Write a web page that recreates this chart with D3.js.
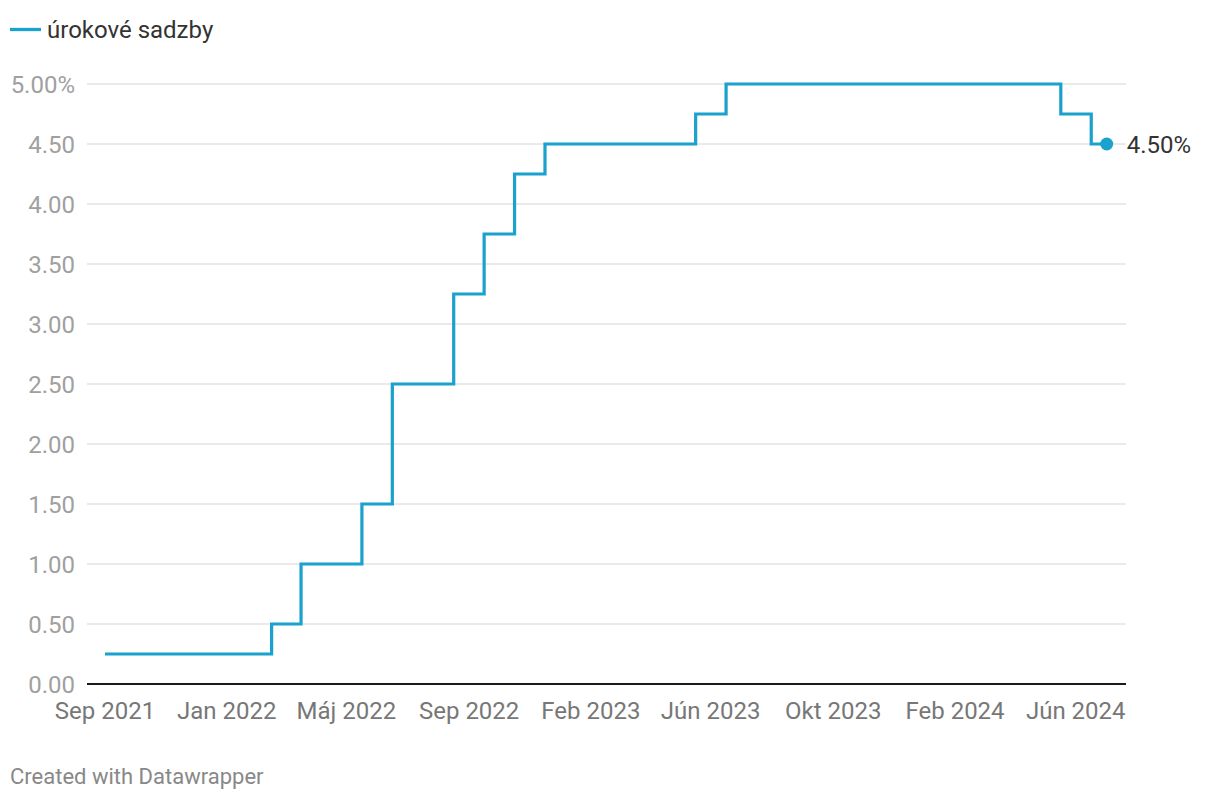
<!DOCTYPE html>
<html><head><meta charset="utf-8">
<script src="https://cdn.jsdelivr.net/npm/d3@7"></script>
<style>body{margin:0;background:#fff;} svg{display:block;font-family:Roboto, sans-serif;}</style>
</head><body><svg id="c" width="1220" height="800"></svg>
<script>
const months = ["2021-09","2021-10","2021-11","2021-12","2022-01","2022-02","2022-03","2022-04","2022-05","2022-06","2022-07","2022-08","2022-09","2022-10","2022-11","2022-12","2023-01","2023-02","2023-03","2023-04","2023-05","2023-06","2023-07","2023-08","2023-09","2023-10","2023-11","2023-12","2024-01","2024-02","2024-03","2024-04","2024-05","2024-06"];
const rates = [0.25,0.25,0.25,0.25,0.25,0.25,0.5,1.0,1.0,1.5,2.5,2.5,3.25,3.75,4.25,4.5,4.5,4.5,4.5,4.5,4.75,5,5,5,5,5,5,5,5,5,5,5,4.75,4.5];
const yTicks = [0,0.5,1,1.5,2,2.5,3,3.5,4,4.5,5];
const xTickDates = ["2021-09","2022-01","2022-05","2022-09","2023-01","2023-05","2023-09","2024-01","2024-05"];
const xTickLabels = ["Sep 2021","Jan 2022","Máj 2022","Sep 2022","Feb 2023","Jún 2023","Okt 2023","Feb 2024","Jún 2024"];
const seriesName = "úrokové sadzby";
const lastLabel = "4.50%";
const credit = "Created with Datawrapper";

const parse = d3.timeParse("%Y-%m");
const data = months.map((m,i)=>({date:parse(m), v:rates[i]}));
const svg = d3.select("#c");
const color = "#1aa1cd";

const x = d3.scaleTime().domain(d3.extent(data,d=>d.date)).range([105,1106.7]);
const y = d3.scaleLinear().domain([0,5]).range([684,84]);
const gridX0 = 87, gridX1 = 1126;

// gridlines
svg.append("g").selectAll("line").data(yTicks.filter(t=>t>0)).join("line")
  .attr("x1",gridX0).attr("x2",gridX1)
  .attr("y1",d=>y(d)).attr("y2",d=>y(d))
  .attr("stroke","#e3e3e3").attr("stroke-width",1.3);

// y labels
svg.append("g").selectAll("text").data(yTicks).join("text")
  .attr("x",75).attr("y",d=>y(d)).attr("dy","0.36em")
  .attr("text-anchor","end").attr("fill","#a0a0a0").attr("font-size",24)
  .text(d=> d===5 ? d3.format(".2f")(d)+"%" : d3.format(".2f")(d));

// baseline
svg.append("line").attr("x1",gridX0).attr("x2",gridX1).attr("y1",y(0)).attr("y2",y(0))
  .attr("stroke","#1a1a1a").attr("stroke-width",2);

// x labels
svg.append("g").selectAll("text").data(xTickDates).join("text")
  .attr("x",d=>x(parse(d))).attr("y",719)
  .attr("text-anchor","middle").attr("fill","#777").attr("font-size",24)
  .text((d,i)=>xTickLabels[i]);

// line
const line = d3.line().x(d=>x(d.date)).y(d=>y(d.v)).curve(d3.curveStep);
svg.append("path").datum(data).attr("d",line)
  .attr("fill","none").attr("stroke",color).attr("stroke-width",3.2);

const last = data[data.length-1];
svg.append("circle").attr("cx",x(last.date)).attr("cy",y(last.v)).attr("r",6.5).attr("fill",color);
svg.append("text").attr("x",x(last.date)+20).attr("y",y(last.v)).attr("dy","0.36em")
  .attr("fill","#333").attr("font-size",24).text(lastLabel);

// legend
svg.append("line").attr("x1",10).attr("x2",41).attr("y1",29.5).attr("y2",29.5)
  .attr("stroke",color).attr("stroke-width",3.3);
svg.append("text").attr("x",47).attr("y",38).attr("fill","#333").attr("font-size",24).text(seriesName);

// credit
svg.append("text").attr("x",10).attr("y",784).attr("fill","#888").attr("font-size",22).text(credit);
</script></body></html>
